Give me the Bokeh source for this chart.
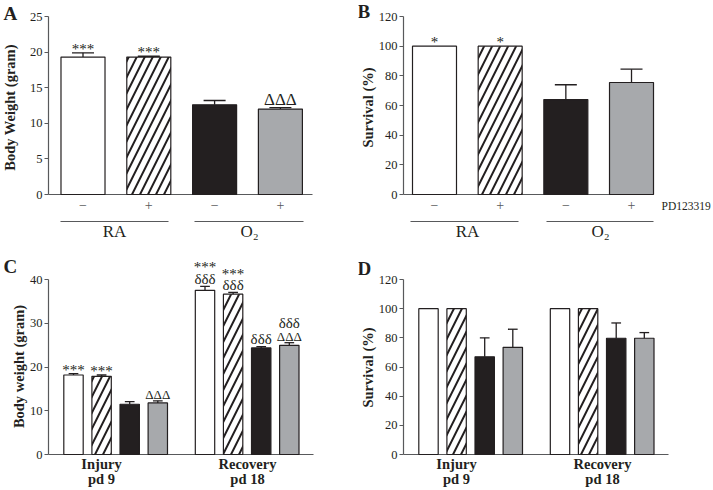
import math
from bokeh.plotting import figure
from bokeh.models import Range1d, FixedTicker, ColumnDataSource
from bokeh.layouts import row, column
from bokeh.core.properties import value
from bokeh.embed import file_html
from bokeh.resources import INLINE

# ---------------- data ----------------
# Panel A: body weight (gram); order: RA/-, RA/+, O2/-, O2/+ (PD123319)
A_values = [19.3, 19.3, 12.6, 12.0]
A_errors = [0.6, 0.12, 0.6, 0.2]
A_marks = [["***"], ["***"], [], ["ΔΔΔ"]]
# Panel B: survival (%)
B_values = [100, 100, 64, 75.5]
B_errors = [0, 0, 10, 9]
B_marks = [["*"], ["*"], [], []]
pd_labels = ["−", "+", "−", "+"]
exposure_labels = ["RA", "O₂"]
drug_label = "PD123319"
# Panel C: body weight (gram) at injury (pd 9) and recovery (pd 18)
C_injury = [18.2, 17.9, 11.5, 11.8]
C_injury_err = [0.3, 0.3, 0.6, 0.5]
C_recovery = [37.6, 36.7, 24.4, 25.0]
C_recovery_err = [0.9, 0.4, 0.3, 0.6]
C_injury_marks = [["***"], ["***"], [], ["ΔΔΔ"]]
C_recovery_marks = [["***", "δδδ"], ["***", "δδδ"], ["δδδ"], ["δδδ", "ΔΔΔ"]]
# Panel D: survival (%)
D_injury = [100, 100, 67, 73.5]
D_injury_err = [0, 0, 13, 12.4]
D_recovery = [100, 100, 79.7, 79.7]
D_recovery_err = [0, 0, 10.5, 3.9]
timepoint_labels = [["Injury", "pd 9"], ["Recovery", "pd 18"]]

A_ticks = [0, 5, 10, 15, 20, 25]
B_ticks = [0, 20, 40, 60, 80, 100, 120]
C_ticks = [0, 10, 20, 30, 40]
D_ticks = [0, 20, 40, 60, 80, 100, 120]

# ---------------- style ----------------
SERIF = "Liberation Serif"
INK = "#231f20"
AXIS = "#58595b"
FILLS = ["#ffffff", "#ffffff", "#231f20", "#a7a9ac"]
HATCH = [" ", "/", " ", " "]


def px_to_x(cfg, px):
    return (px - cfg["x_ref"]) / cfg["x_ppu"]


def px_to_y(cfg, py):
    return (cfg["y_ref"] - py) / cfg["y_ppu"]


def draw_text(p, cfg, pxs, pys, texts, size, bold=False, align="center", color=INK, angle=0.0):
    p.text(x=[px_to_x(cfg, v) for v in pxs], y=[px_to_y(cfg, v) for v in pys], text=texts,
           text_align=align, text_baseline="middle", text_font=value(SERIF), angle=angle,
           text_font_size=size, text_font_style="bold" if bold else "normal", text_color=color)


def make_fig(cfg):
    fx, fy, w, h = cfg["fx"], cfg["fy"], cfg["w"], cfg["h"]
    p = figure(
        width=w, height=h,
        x_range=Range1d(px_to_x(cfg, fx), px_to_x(cfg, fx + w)),
        y_range=Range1d(px_to_y(cfg, fy + h), px_to_y(cfg, fy)),
        output_backend="svg", toolbar_location=None, title=None,
        x_axis_location=None, y_axis_location="left",
        min_border_left=0, min_border_right=0, min_border_top=0, min_border_bottom=0,
    )
    p.outline_line_color = None
    p.grid.grid_line_color = None
    p.background_fill_color = "white"
    p.border_fill_color = "white"
    ax = p.yaxis[0]
    ax.fixed_location = px_to_x(cfg, cfg["axis_px"])
    ax.ticker = FixedTicker(ticks=cfg["ticks"])
    ax.bounds = (0, cfg["ticks"][-1])
    ax.major_tick_in = 0
    ax.major_tick_out = 4
    ax.minor_tick_line_color = None
    ax.axis_line_color = AXIS
    ax.axis_line_width = 1.2
    ax.major_tick_line_color = AXIS
    ax.major_tick_line_width = 1.2
    ax.major_label_text_font = SERIF
    ax.major_label_text_font_size = "12.5px"
    ax.major_label_text_color = INK
    ax.major_label_standoff = 2

    # x axis line at y = 0
    p.segment(x0=[px_to_x(cfg, cfg["axis_px"])], y0=[0], x1=[px_to_x(cfg, cfg["axis_end"])], y1=[0],
              line_color=AXIS, line_width=1.2)

    # y-axis title and panel letter
    lx, ly = cfg["ylab_pos"]
    draw_text(p, cfg, [lx], [ly], [cfg["ylabel"]], "14.5px", bold=True, angle=math.pi / 2)
    qx, qy = cfg["letter_pos"]
    draw_text(p, cfg, [qx], [qy], [cfg["letter"]], "19px", bold=True, align="left")
    return p


# visible height (em) and offset of the visible centre above the anchor (em)
MARK_METRICS = {"*": (0.45, 0.13), "Δ": (0.62, 0.0), "δ": (0.70, 0.02)}


def draw_bars(p, cfg, xs, tops, errs, marks):
    src = ColumnDataSource(dict(x=xs, top=tops, fill=[FILLS[i % 4] for i in range(len(xs))],
                                hatch=[HATCH[i % 4] for i in range(len(xs))]))
    p.vbar(x="x", top="top", bottom=0, width=cfg["bar_w"], source=src,
           fill_color="fill", line_color=INK, line_width=1.2,
           hatch_pattern="hatch", hatch_color=INK, hatch_weight=2.0, hatch_scale=cfg["hatch_scale"])
    ex = [x for x, e in zip(xs, errs) if e > 0]
    et = [t for t, e in zip(tops, errs) if e > 0]
    ee = [t + e for t, e in zip(tops, errs) if e > 0]
    cw = cfg["bar_w"] * 0.5
    p.segment(x0=ex, y0=et, x1=ex, y1=ee, line_color=INK, line_width=1.3)
    p.segment(x0=[x - cw / 2 for x in ex], y0=ee, x1=[x + cw / 2 for x in ex], y1=ee,
              line_color=INK, line_width=1.3)
    # significance marks stacked above each bar
    tx, ty, tt, ts = [], [], [], []
    for x, t, e, lines in zip(xs, tops, errs, marks):
        b = cfg["y_ref"] - (t + e) * cfg["y_ppu"] - 2.5
        for line in reversed(lines):
            size = cfg["mark_size"].get(line[0], 15)
            hfrac, coff = MARK_METRICS[line[0]]
            hgt = hfrac * size
            anchor = b - hgt / 2 + coff * size
            tx.append(x)
            ty.append(px_to_y(cfg, anchor))
            tt.append(line)
            ts.append(f"{size}px")
            b = b - hgt - 4.5
    if tt:
        p.text(x=tx, y=ty, text=tt, text_font_size=ts, text_align="center", text_baseline="middle",
               text_font=value(SERIF), text_color=INK)


# ---------------- panel A ----------------
cfgA = dict(fx=0, fy=0, w=358, h=250, axis_px=48,
            x_ref=82.5, x_ppu=65.8, y_ref=194, y_ppu=7.12, ticks=A_ticks, axis_end=312,
            bar_w=0.669, hatch_scale=16, mark_size={"*": 15, "Δ": 17, "δ": 15},
            ylabel="Body Weight (gram)", ylab_pos=(9, 107), letter="A", letter_pos=(3, 12.5))
pA = make_fig(cfgA)
xsA = list(range(len(A_values)))
draw_bars(pA, cfgA, xsA, A_values, A_errors, A_marks)
pA.text(x=xsA, y=[px_to_y(cfgA, 204.5)] * 4, text=pd_labels, text_align="center", text_baseline="middle",
        text_font=value(SERIF), text_font_size="14px", text_color=AXIS)
pA.segment(x0=[px_to_x(cfgA, 60), px_to_x(cfgA, 194)], y0=[px_to_y(cfgA, 221)] * 2,
           x1=[px_to_x(cfgA, 168), px_to_x(cfgA, 303)], y1=[px_to_y(cfgA, 221)] * 2,
           line_color=AXIS, line_width=1.2)
draw_text(pA, cfgA, [114, 249], [230.5, 230.5], exposure_labels, "17px")

# ---------------- panel B ----------------
cfgB = dict(fx=358, fy=0, w=355, h=250, axis_px=403,
            x_ref=434, x_ppu=65.67, y_ref=194, y_ppu=178 / 120, ticks=B_ticks, axis_end=653,
            bar_w=0.67, hatch_scale=16, mark_size={"*": 15},
            ylabel="Survival (%)", ylab_pos=(367, 107), letter="B", letter_pos=(357, 11))
pB = make_fig(cfgB)
xsB = list(range(len(B_values)))
draw_bars(pB, cfgB, xsB, B_values, B_errors, B_marks)
pB.text(x=xsB, y=[px_to_y(cfgB, 204.5)] * 4, text=pd_labels, text_align="center", text_baseline="middle",
        text_font=value(SERIF), text_font_size="14px", text_color=AXIS)
pB.segment(x0=[px_to_x(cfgB, 410), px_to_x(cfgB, 546)], y0=[px_to_y(cfgB, 221)] * 2,
           x1=[px_to_x(cfgB, 518), px_to_x(cfgB, 653)], y1=[px_to_y(cfgB, 221)] * 2,
           line_color=AXIS, line_width=1.2)
draw_text(pB, cfgB, [467, 600], [230.5, 230.5], exposure_labels, "17px")
draw_text(pB, cfgB, [661], [205], [drug_label], "11.5px", align="left", color=INK)

# ---------------- panel C ----------------
GROUP_STEP = 4.68
cfgC = dict(fx=0, fy=250, w=358, h=240, axis_px=48,
            x_ref=73, x_ppu=28.1, y_ref=454, y_ppu=174.7 / 40, ticks=C_ticks, axis_end=313,
            bar_w=0.69, hatch_scale=16, mark_size={"*": 15, "Δ": 13, "δ": 15},
            ylabel="Body weight (gram)", ylab_pos=(18, 366), letter="C", letter_pos=(3, 266))
pC = make_fig(cfgC)
xsC = [g * GROUP_STEP + i for g in range(2) for i in range(4)]
draw_bars(pC, cfgC, xsC, C_injury + C_recovery, C_injury_err + C_recovery_err,
          C_injury_marks + C_recovery_marks)
draw_text(pC, cfgC, [101, 247], [463.5, 463.5], [t[0] for t in timepoint_labels], "14.5px", bold=True)
draw_text(pC, cfgC, [101, 247], [478, 478], [t[1] for t in timepoint_labels], "14.5px", bold=True)

# ---------------- panel D ----------------
cfgD = dict(fx=358, fy=250, w=355, h=240, axis_px=403,
            x_ref=428, x_ppu=28.1, y_ref=454, y_ppu=175 / 120, ticks=D_ticks, axis_end=668,
            bar_w=0.69, hatch_scale=16, mark_size={},
            ylabel="Survival (%)", ylab_pos=(367, 367), letter="D", letter_pos=(357, 267.5))
pD = make_fig(cfgD)
xsD = [g * GROUP_STEP + i for g in range(2) for i in range(4)]
draw_bars(pD, cfgD, xsD, D_injury + D_recovery, D_injury_err + D_recovery_err, [[] for _ in range(8)])
draw_text(pD, cfgD, [456, 602], [463.5, 463.5], [t[0] for t in timepoint_labels], "14.5px", bold=True)
draw_text(pD, cfgD, [456, 602], [478, 478], [t[1] for t in timepoint_labels], "14.5px", bold=True)

layout = column(row(pA, pB, spacing=0), row(pC, pD, spacing=0), spacing=0)
open("out.html", "w").write(file_html(layout, INLINE))
